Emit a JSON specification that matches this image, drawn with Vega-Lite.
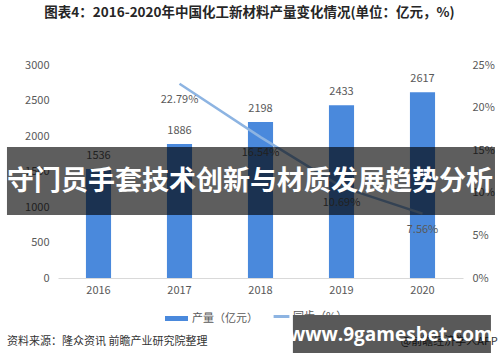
{
  "$schema": "https://vega.github.io/schema/vega-lite/v6.json",
  "width": 405,
  "height": 213,
  "autosize": {"type": "none"},
  "padding": {"left": 58, "top": 65, "right": 37, "bottom": 84},
  "background": "white",
  "config": {
    "view": {"stroke": null},
    "font": "Noto Sans CJK SC",
    "axis": {"labelFont": "Noto Sans CJK SC", "labelFontSize": 11, "labelColor": "#595959", "ticks": false, "grid": false, "title": null, "labelOverlap": false},
    "legend": {"labelFont": "Noto Sans CJK SC", "labelFontSize": 11, "labelColor": "#595959"}
  },
  "title": {
    "text": "图表4：2016-2020年中国化工新材料产量变化情况(单位：亿元，%)",
    "anchor": "middle",
    "frame": "group",
    "dx": -11,
    "offset": 40,
    "fontSize": 13.5,
    "fontWeight": "bold",
    "color": "#262626",
    "font": "Noto Sans CJK SC"
  },
  "datasets": {
    "main": [
      {"year": "2016", "output": 1536, "growth": null},
      {"year": "2017", "output": 1886, "growth": 22.79},
      {"year": "2018", "output": 2198, "growth": 16.54},
      {"year": "2019", "output": 2433, "growth": 10.69},
      {"year": "2020", "output": 2617, "growth": 7.56}
    ]
  },
  "data": {"name": "main"},
  "layer": [
    {
      "encoding": {
        "x": {"field": "year", "type": "nominal", "scale": {"type": "band", "paddingInner": 0.69, "paddingOuter": 0.345}, "axis": {"labelAngle": 0, "domain": true, "domainColor": "#d9d9d9", "labelPadding": 6}},
        "y": {"field": "output", "type": "quantitative", "scale": {"domain": [0, 3000]}, "axis": {"orient": "left", "values": [0, 500, 1000, 1500, 2000, 2500, 3000], "format": "d", "domain": false, "labelPadding": 9, "labelOverlap": false}}
      },
      "layer": [
        {
          "mark": {"type": "bar"},
          "encoding": {
            "color": {"datum": "产量（亿元）", "scale": {"range": ["#4a89dc"]}, "legend": {"orient": "none", "legendX": 107, "legendY": 242, "title": null, "padding": 0, "symbolType": "M-1,-0.22H1V0.22H-1Z", "symbolSize": 529, "symbolStrokeWidth": 0, "labelOffset": 4}}
          }
        },
        {
          "mark": {"type": "text", "dy": -13, "fontSize": 11, "color": "#595959", "font": "Noto Sans CJK SC"},
          "encoding": {
            "text": {"field": "output", "type": "quantitative"}
          }
        }
      ]
    },
    {
      "transform": [
        {"filter": "datum.growth != null"},
        {"calculate": "format(datum.growth, '.2f') + '%'", "as": "label"}
      ],
      "encoding": {
        "x": {"field": "year", "type": "nominal", "scale": {"type": "point", "padding": 0.5, "domain": ["2016", "2017", "2018", "2019", "2020"]}, "axis": null},
        "y": {"field": "growth", "type": "quantitative", "scale": {"domain": [0, 25]}, "axis": {"orient": "right", "values": [0, 5, 10, 15, 20, 25], "labelExpr": "datum.value + '%'", "domain": false, "labelPadding": 9}}
      },
      "layer": [
        {
          "mark": {"type": "line", "strokeWidth": 2.5},
          "encoding": {
            "stroke": {"datum": "同步（%）", "scale": {"range": ["#8db4e2"]}, "legend": {"orient": "none", "legendX": 214, "legendY": 242, "title": null, "padding": 0, "symbolType": "stroke", "symbolSize": 250, "symbolStrokeWidth": 3, "labelOffset": 2}}
          }
        },
        {
          "mark": {"type": "text", "dy": 16, "fontSize": 11, "color": "#595959", "font": "Noto Sans CJK SC"},
          "encoding": {
            "text": {"field": "label", "type": "nominal"}
          }
        }
      ]
    },
    {
      "data": {"values": [{"note": "资料来源：隆众资讯 前瞻产业研究院整理"}]},
      "mark": {"type": "text", "align": "left", "baseline": "middle", "fontSize": 11, "color": "#333333", "font": "Noto Sans CJK SC"},
      "encoding": {
        "x": {"datum": -12.6, "type": "quantitative", "scale": {"domain": [0, 100]}, "axis": null},
        "y": {"datum": -901, "type": "quantitative", "scale": {"domain": [0, 3000]}, "axis": null},
        "text": {"field": "note", "type": "nominal"}
      }
    },
    {
      "data": {"values": [{"note": "@前瞻经济学人APP"}]},
      "mark": {"type": "text", "align": "right", "baseline": "middle", "fontSize": 11, "color": "#333333", "font": "Noto Sans CJK SC"},
      "encoding": {
        "x": {"datum": 108.6, "type": "quantitative", "scale": {"domain": [0, 100]}, "axis": null},
        "y": {"datum": -901, "type": "quantitative", "scale": {"domain": [0, 3000]}, "axis": null},
        "text": {"field": "note", "type": "nominal"}
      }
    },
    {
      "data": {"values": [{"note": "banner"}]},
      "mark": {"type": "rect", "color": "#000000", "opacity": 0.63, "zindex": 1},
      "encoding": {
        "x": {"datum": -12.6, "type": "quantitative", "scale": {"domain": [0, 100]}, "axis": null},
        "x2": {"datum": 107.9},
        "y": {"datum": 1845, "type": "quantitative", "scale": {"domain": [0, 3000]}, "axis": null},
        "y2": {"datum": 887}
      }
    },
    {
      "data": {"values": [{"note": "守门员手套技术创新与材质发展趋势分析"}]},
      "mark": {"type": "text", "align": "center", "baseline": "middle", "fontSize": 27, "fontWeight": "bold", "color": "#ffffff", "font": "Noto Sans CJK SC", "zindex": 1},
      "encoding": {
        "x": {"datum": 47.4, "type": "quantitative", "scale": {"domain": [0, 100]}, "axis": null},
        "y": {"datum": 1352, "type": "quantitative", "scale": {"domain": [0, 3000]}, "axis": null},
        "text": {"field": "note", "type": "nominal"}
      }
    },
    {
      "data": {"values": [{"note": "watermark"}]},
      "mark": {"type": "rect", "color": "#000000", "opacity": 0.65, "zindex": 1},
      "encoding": {
        "x": {"datum": 58.0, "type": "quantitative", "scale": {"domain": [0, 100]}, "axis": null},
        "x2": {"datum": 106.9},
        "y": {"datum": -521, "type": "quantitative", "scale": {"domain": [0, 3000]}, "axis": null},
        "y2": {"datum": -1056}
      }
    },
    {
      "data": {"values": [{"note": "www.9gamesbet.com"}]},
      "mark": {"type": "text", "align": "center", "baseline": "middle", "fontSize": 19, "fontWeight": "bold", "color": "#ffffff", "font": "Open Sans", "zindex": 1},
      "encoding": {
        "x": {"datum": 82.2, "type": "quantitative", "scale": {"domain": [0, 100]}, "axis": null},
        "y": {"datum": -803, "type": "quantitative", "scale": {"domain": [0, 3000]}, "axis": null},
        "text": {"field": "note", "type": "nominal"}
      }
    }
  ],
  "resolve": {"scale": {"x": "independent", "y": "independent"}}
}
